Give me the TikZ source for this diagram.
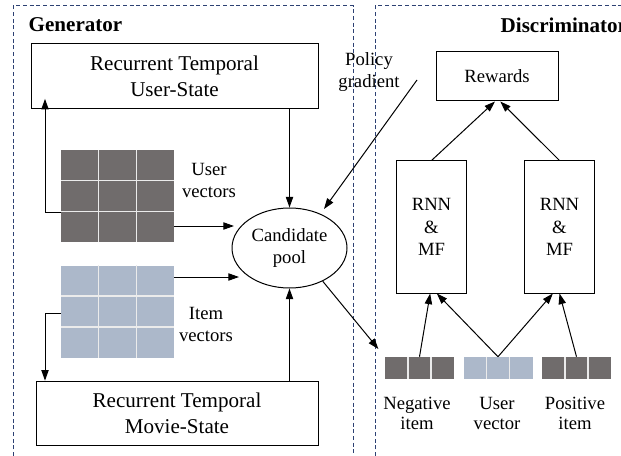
\documentclass[tikz,border=0pt]{standalone}
\usepackage{fontspec}
\setmainfont{Liberation Serif}
\usetikzlibrary{arrows.meta}
\usetikzlibrary{shapes.geometric}
\usetikzlibrary{calc}
\definecolor{usercell}{RGB}{112,108,108}
\definecolor{itemcell}{RGB}{172,184,202}
\definecolor{frameblue}{RGB}{45,65,115}

\begin{document}
\begin{tikzpicture}[x=0.75pt,y=0.75pt,yscale=-1,xscale=1,
    every node/.style={font=\fontsize{14}{16}\selectfont},
    arr/.style={line width=0.75pt,-{Triangle[length=8pt,width=5.5pt]}},
    frameline/.style={color=frameblue,line width=0.75pt,dash pattern={on 3pt off 2pt}},
    statebox/.style={draw,line width=0.75pt,inner sep=0pt,align=center,minimum height=48.5pt,font=\fontsize{15.8}{19.5}\selectfont},
    plainbox/.style={draw,line width=0.75pt,inner sep=0pt,align=center},
    cellgrid/.style={inner sep=0pt,minimum width=84.75pt,minimum height=69pt},
    vecbar/.style={inner sep=0pt,minimum width=51.75pt,minimum height=16.5pt},
    cellsep/.style={white!92!black,line width=1.3pt},
    boxtitle/.style={anchor=west,font=\fontsize{15.8}{19}\selectfont\bfseries}]
  \useasboundingbox (0,0) rectangle (621,456);

  %Dashed frames
  \draw [frameline] (13,456) -- (13,6) -- (353,6) -- (353,456) ;
  \draw [frameline] (375,456) -- (375,6) -- (621,6) ;

  % Text Node
  \node [boxtitle] (gen) at (24,25) {Generator};
  \node [boxtitle] (disc) at (496,25) {Discriminator};

  %Generator
  \node [statebox,minimum width=215.25pt] (ustate) at (174.5,76) {Recurrent Temporal\\User-State};
  \node [statebox,minimum width=211.5pt] (mstate) at (177,413.5) {Recurrent Temporal\\Movie-State};
  \node [cellgrid,fill=usercell] (uvec) at (117.5,196) {};
  \node [cellgrid,fill=itemcell] (ivec) at (117.5,311.5) {};
  \node [align=center,font=\fontsize{14}{16.5}\selectfont] (uvlab) at (209,180) {User\\vectors};
  \node [align=center,font=\fontsize{14}{16.5}\selectfont] (ivlab) at (206,324) {Item\\vectors};
  \node [draw,ellipse,line width=0.75pt,inner sep=0pt,minimum width=86.25pt,minimum height=60pt,align=center] (pool) at (289.5,248) {Candidate\\pool};
  \node [align=center] (pglab) at (369,72) {Policy\\gradient};

  %Discriminator
  \node [plainbox,minimum width=91.5pt,minimum height=36.75pt] (rew) at (497,76.5) {Rewards};
  \node [plainbox,minimum width=52.5pt,minimum height=99pt,font=\fontsize{14}{17}\selectfont] (rnnl) at (431.5,227) {RNN\\\&\\MF};
  \node [plainbox,minimum width=52.5pt,minimum height=99pt,font=\fontsize{14}{17}\selectfont] (rnnr) at (559.5,227) {RNN\\\&\\MF};
  \node [vecbar,fill=usercell] (neg) at (419.5,368) {};
  \node [vecbar,fill=itemcell] (usr) at (498,368) {};
  \node [vecbar,fill=usercell] (pos) at (576.5,368) {};
  \node [align=center,font=\fontsize{14}{15}\selectfont] (neglab) at (417,413) {Negative\\item};
  \node [align=center,font=\fontsize{14}{15}\selectfont] (usrlab) at (497,413) {User\\vector};
  \node [align=center,font=\fontsize{14}{15}\selectfont] (poslab) at (575,413) {Positive\\item};

  %Cell separators
  \foreach \g in {uvec,ivec,neg,usr,pos} {
    \foreach \f in {1,2}
      \draw [cellsep] ($(\g.north west)!\f/3!(\g.north east)$) -- ($(\g.south west)!\f/3!(\g.south east)$) ;
  }
  \foreach \g in {uvec,ivec} {
    \foreach \f in {1,2}
      \draw [cellsep] ($(\g.north west)!\f/3!(\g.south west)$) -- ($(\g.north east)!\f/3!(\g.south east)$) ;
  }

  %Coordinates
  \coordinate (uturn) at (45,212);
  \coordinate (iturn) at (45,313);
  \coordinate (uin) at (234,226);
  \coordinate (iin) at (239,277);
  \coordinate (pgstart) at (417,80);
  \coordinate (pgend) at (324,209);

  %Arrows
  \draw [arr] (uvec.west |- uturn) -- (uturn) -- ([yshift=-7.5pt]ustate.south -| uturn) ;
  \draw [arr] (ivec.west |- iturn) -- (iturn) -- (mstate.north -| iturn) ;
  \draw [arr] (uvec.east |- uin) -- (uin) ;
  \draw [arr] (ivec.east |- iin) -- (iin) ;
  \draw [arr] (ustate.south -| pool) -- (pool.north) ;
  \draw [arr] (mstate.north -| pool) -- (pool.south) ;
  \draw [arr] (pgstart) -- (pgend) ;
  \draw [arr,shorten >=7.5pt] (pool.-45) -- (neg.north west) ;
  \draw [arr] (rnnl.north) -- ([xshift=-1.5pt]rew.south) ;
  \draw [arr] (rnnr.north) -- ([xshift=2.5pt]rew.south) ;
  \draw [arr] (neg.north) -- ([xshift=-1pt]rnnl.south) ;
  \draw [arr] (usr.north) -- ([xshift=4pt]rnnl.south) ;
  \draw [arr] (usr.north) -- ([xshift=-5pt]rnnr.south) ;
  \draw [arr] (pos.north) -- (rnnr.south) ;

\end{tikzpicture}
\end{document}
